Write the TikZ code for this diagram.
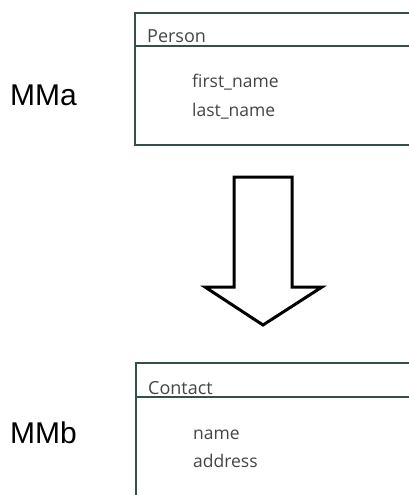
\documentclass[tikz,border=0pt]{standalone}
\usepackage{fontspec}
\setmainfont{Liberation Sans}
\newfontfamily\classfont{Open Sans}
\definecolor{boxline}{HTML}{34504C}
\definecolor{classtext}{HTML}{444444}

\begin{document}
\begin{tikzpicture}[x=1pt, y=-1pt,
        classbox/.style={draw=boxline, line width=2.6pt},
        classname/.style={anchor=base west, inner sep=0pt, text=classtext, font=\classfont\fontsize{18}{18}\selectfont},
        attr/.style={anchor=base west, inner sep=0pt, text=classtext, font=\classfont\fontsize{17.5}{17.5}\selectfont},
        mmlabel/.style={anchor=base west, inner sep=0pt, font=\fontsize{30}{30}\selectfont}]
                \useasboundingbox (0, 0) rectangle (409, 495);
                \clip (0, 0) rectangle (409, 495);
                % upper class box
                \draw[classbox] (135, 13) rectangle (420, 145);
                \draw[classbox] (135, 46) -- (420, 46);
                \node[classname] (person) at (147, 43){Person};
                \node[attr] (firstname) at (192, 87){first\_name};
                \node[attr] (lastname) at (192, 116){last\_name};
                \node[mmlabel] (mma) at (10, 105){MMa};
                % lower class box
                \draw[classbox] (136, 363) rectangle (420, 510);
                \draw[classbox] (136, 397) -- (420, 397);
                \node[classname] (contact) at (148, 394){Contact};
                \node[attr] (name) at (193, 439){name};
                \node[attr] (address) at (193, 467){address};
                \node[mmlabel] (mmb) at (10, 443){MMb};
                % transformation arrow
                \draw[line width=3pt, line join=miter] (234, 177) -- (292, 177) -- (292, 287) -- (322, 287)
                        -- (263, 325) -- (205, 287) -- (234, 287) -- cycle;
        \end{tikzpicture}
\end{document}
